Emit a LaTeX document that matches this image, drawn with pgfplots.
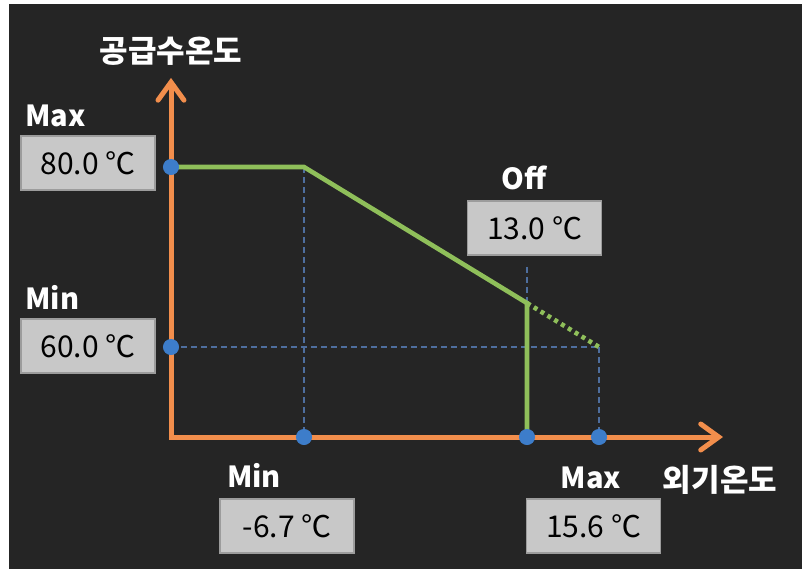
\documentclass[border=0pt]{standalone}
\usepackage{pgfplots}
\pgfplotsset{compat=1.18}
\usepackage{fontspec}
\setmainfont{Noto Sans CJK KR}
\usetikzlibrary{arrows.meta}
\definecolor{bg}{HTML}{252525}
\definecolor{orangeax}{HTML}{F28E4C}
\definecolor{greenln}{HTML}{8FBF5A}
\definecolor{bluedot}{HTML}{3D7DCA}
\definecolor{bluedash}{HTML}{4E6E9E}
\definecolor{boxfill}{HTML}{C8C8C8}
\definecolor{boxdraw}{HTML}{9C9C9C}
\begin{document}
\begin{tikzpicture}[x=0.5pt,y=-0.5pt,
  boxn/.style={fill=boxfill, draw=boxdraw, line width=0.6pt, minimum width=67pt,
    minimum height=27pt, inner sep=0pt, text=black, font=\fontsize{15}{17}\selectfont},
  lab/.style={text=white, font=\fontsize{14.5}{16}\selectfont\bfseries, inner sep=0pt}]
\fill[white] (0,0) rectangle (803,569);
\fill[bg] (9,4) rectangle (802,569);
\coordinate (O) at (171,437);
\begin{axis}[at={(O)}, anchor=origin,
  x=0.5pt, y=4.5pt,
  xmin=0, xmax=552, ymin=50, ymax=89.9,
  axis lines=left, ticks=none, clip=false,
  axis line style={draw=orangeax, line width=2.5pt, line cap=rect,
    -{Straight Barb[length=9pt,width=13pt,line width=2.5pt,line cap=round]}},
]
% dashed guide lines
\addplot[bluedash, line width=0.8pt, dash pattern=on 3pt off 2pt] coordinates {(133,80) (133,50)};
\addplot[bluedash, line width=0.8pt, dash pattern=on 3pt off 2pt] coordinates {(0,60) (428,60)};
\addplot[bluedash, line width=0.8pt, dash pattern=on 3pt off 2pt] coordinates {(428,60) (428,50)};
\addplot[bluedash, line width=0.8pt, dash pattern=on 3pt off 2pt] coordinates {(356,68.9) (356,64.88)};
% heating curve
\addplot[greenln, line width=2.3pt] coordinates {(0,80) (133,80) (356,64.88) (356,50)};
\addplot[greenln, line width=2.3pt, dash pattern=on 2pt off 2pt] coordinates {(356,64.88) (428,60)};
% points
\addplot[only marks, mark=*, mark size=3.8pt, color=bluedot] coordinates {(0,80) (0,60) (133,50) (356,50) (428,50)};
\end{axis}
\node[text=white, font=\fontsize{15.5}{17}\selectfont\bfseries, inner sep=0pt] at (171,51) {공급수온도};
\node[text=white, font=\fontsize{15.5}{17}\selectfont\bfseries, inner sep=0pt] at (720,480) {외기온도};
\node[lab, anchor=west] at (25,116) {Max};
\node[lab, anchor=west] at (25,297) {Min};
\node[lab] at (524,178) {Off};
\node[lab] at (254,475) {Min};
\node[lab] at (591,478) {Max};
\node[boxn] at (88,163) {80.0 ℃};
\node[boxn] at (88,346) {60.0 ℃};
\node[boxn] at (534.5,228) {13.0 ℃};
\node[boxn] at (287,526) {-6.7 ℃};
\node[boxn] at (593.5,526) {15.6 ℃};
\end{tikzpicture}
\end{document}
